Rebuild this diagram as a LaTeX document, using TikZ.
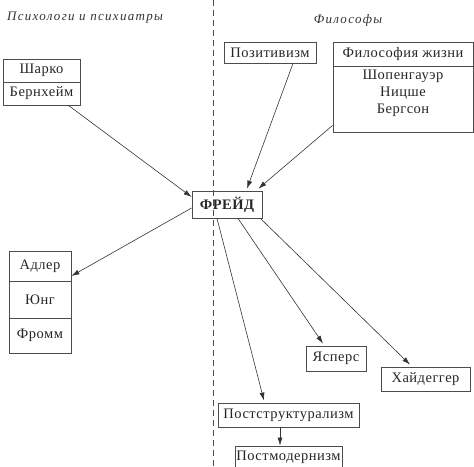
\documentclass[tikz,border=0pt]{standalone}
\usepackage{fontspec}
\setmainfont{Liberation Serif}[LetterSpace=3.5]
\newfontfamily\spacedfont{Liberation Serif}[LetterSpace=10]
\usetikzlibrary{arrows.meta}
\begin{document}
\begin{tikzpicture}[x=1pt,y=-1pt,
  box/.style={draw=black!70,line width=0.8pt,inner sep=0pt,minimum width=#1,font=\fontsize{14.5}{17}\selectfont,text=black!85},
  box/.default=60pt,
  link/.style={draw=black!80,line width=0.6pt,-{Latex[length=8pt,width=5pt]}},
  title/.style={font=\fontsize{13}{15}\spacedfont\itshape,text=black!80}]
\useasboundingbox (0,0) rectangle (474,466);

% dividing line
\draw[black!70,line width=0.7pt,dash pattern=on 6pt off 4pt] (213,0) -- (213,466);

\node[title] (psy) at (85,18) {Психологи и психиатры};
\node[title] (phil) at (348,20) {Философы};

% left column
\node[box=77pt,minimum height=23pt] (sharko) at (41.5,70.5) {Шарко};
\node[box=77pt,minimum height=23pt] (bern) at (41.5,93.5) {Бернхейм};
\node[box=62pt,minimum height=30pt] (adler) at (40,266) {Адлер};
\node[box=62pt,minimum height=37pt] (jung) at (40,299.5) {Юнг};
\node[box=62pt,minimum height=35pt] (fromm) at (40,335.5) {Фромм};

% right column
\node[box=92pt,minimum height=21pt] (poz) at (270,52.5) {Позитивизм};
\node[box=140pt,minimum height=24pt] (life) at (403,54) {Философия жизни};
\node[box=140pt,minimum height=66pt,anchor=north] (lifebox) at (403,66) {};
\node[box,draw=none,align=center] (lifenames) at (403,93.5) {Шопенгауэр\\Ницше\\Бергсон};

\node[box=70pt,minimum height=27pt,font=\fontsize{14.5}{16}\selectfont\bfseries] (freud) at (227,204.5) {ФРЕЙД};

\node[box=60pt,minimum height=25pt] (jaspers) at (336,358.5) {Ясперс};
\node[box=89pt,minimum height=24pt] (heid) at (425.5,379) {Хайдеггер};
\node[box=141pt,minimum height=24pt] (poststr) at (288.5,415) {Постструктурализм};
\node[box=107pt,minimum height=22pt] (postmod) at (288.5,457) {Постмодернизм};

% influences
\draw[link] ([xshift=-12pt]bern.south east) -- ([yshift=7.5pt]freud.west);
\draw[link] ([xshift=23pt]poz.south) -- ([xshift=20pt,yshift=2pt]freud.north);
\draw[link] ([yshift=-26pt]lifebox.west) -- ([xshift=-4pt,yshift=2pt]freud.north east);
\draw[link] ([yshift=-3.5pt]freud.west) -- ([yshift=-10pt]adler.east);
\draw[link] ([xshift=-10pt]freud.south) -- ([xshift=-24.5pt,yshift=2pt]poststr.north);
\draw[link] ([xshift=11pt]freud.south) -- ([xshift=-13pt,yshift=2pt]jaspers.north);
\draw[link] ([xshift=-2pt]freud.south east) -- ([xshift=-15.5pt,yshift=2pt]heid.north);
\draw[link] ([xshift=-8.5pt]poststr.south) -- ([xshift=-8.5pt]postmod.north);
\end{tikzpicture}
\end{document}
